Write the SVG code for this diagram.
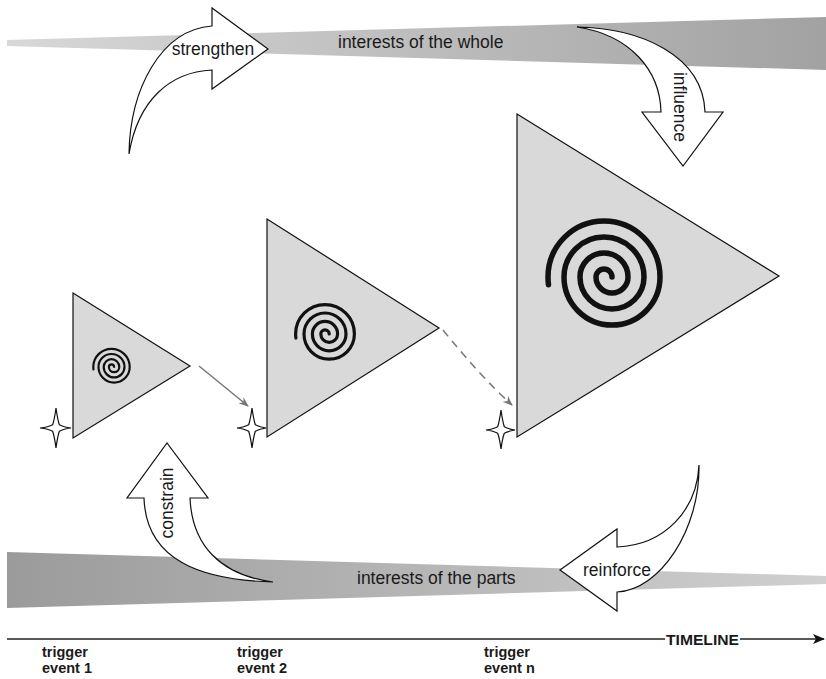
<svg xmlns="http://www.w3.org/2000/svg" width="826" height="679" viewBox="0 0 826 679">
  <defs>
    <linearGradient id="gWhole" x1="0" y1="0" x2="1" y2="0">
      <stop offset="0" stop-color="#d8d8d8"/>
      <stop offset="1" stop-color="#a2a2a2"/>
    </linearGradient>
    <linearGradient id="gParts" x1="0" y1="0" x2="1" y2="0">
      <stop offset="0" stop-color="#9b9b9b"/>
      <stop offset="1" stop-color="#d0d0d0"/>
    </linearGradient>
    <marker id="grayHead" viewBox="0 0 10 8" refX="9" refY="4" markerWidth="10" markerHeight="8" markerUnits="userSpaceOnUse" orient="auto">
      <path d="M0,0 L10,4 L0,8 L3,4 Z" fill="#777"/>
    </marker>
    <marker id="blackHead" viewBox="0 0 12 10" refX="11" refY="5" markerWidth="12" markerHeight="10" markerUnits="userSpaceOnUse" orient="auto">
      <path d="M0,0 L12,5 L0,10 L3,5 Z" fill="#111"/>
    </marker>
  </defs>
  <style>
    .lbl { font-family: "Liberation Sans", Arial, sans-serif; font-size: 17.5px; fill: #1a1a1a; }
    .bold { font-family: "Liberation Sans", Arial, sans-serif; font-size: 14.5px; font-weight: bold; fill: #1a1a1a; }
    .tri { fill: #d9d9d9; stroke: #111; stroke-width: 1.2; stroke-linejoin: miter; }
    .spiral { fill: none; stroke: #111; stroke-linecap: round; }
    .star { fill: #fff; stroke: #111; stroke-width: 1.2; stroke-linejoin: miter; }
    .block { fill: #fff; stroke: #111; stroke-width: 1.2; stroke-linejoin: miter; }
    .conn { fill: none; stroke: #777; stroke-width: 1.5; }
  </style>

  <rect width="826" height="679" fill="#fff"/>

  <g id="band-whole">
    <polygon points="7,40 826,17 826,70 7,46" fill="url(#gWhole)"/>
    <text class="lbl" x="338" y="48">interests of the whole</text>
  </g>

  <g id="band-parts">
    <polygon points="7,552 826,576 826,584 7,608" fill="url(#gParts)"/>
    <text class="lbl" x="357" y="584">interests of the parts</text>
  </g>

  <g id="timeline">
    <line x1="7" y1="639" x2="824" y2="639" stroke="#222" stroke-width="1.5" marker-end="url(#blackHead)"/>
    <rect x="665" y="631" width="75" height="16" fill="#fff"/>
    <text class="bold" x="666" y="644.5" font-size="15.5" textLength="73" lengthAdjust="spacingAndGlyphs">TIMELINE</text>
  </g>

  <g id="trigger-1">
    <text class="bold" x="42" y="657">trigger</text>
    <text class="bold" x="42" y="673">event 1</text>
  </g>
  <g id="trigger-2">
    <text class="bold" x="237" y="657">trigger</text>
    <text class="bold" x="237" y="673">event 2</text>
  </g>
  <g id="trigger-n">
    <text class="bold" x="484" y="657">trigger</text>
    <text class="bold" x="484" y="673">event n</text>
  </g>

  <g id="stage-1">
    <polygon class="tri" points="73,293 190,366 73,438"/>
    <path class="spiral" stroke-width="2.2" d="M114.1,367 A2.6,2.6 0 0 0 108.9,367 A5.2,5.2 0 0 0 119.3,367 A7.8,7.8 0 0 0 103.7,367 A10.4,10.4 0 0 0 124.5,367 A13,13 0 0 0 98.5,367 A15.6,15.6 0 0 0 129.7,367 A18.2,18.2 0 0 0 93.3,367 A18.2,18.2 0 0 0 93.5,369.5"/>
  </g>
  <g id="stage-2">
    <polygon class="tri" points="267,219 439,328 267,437"/>
    <path class="spiral" stroke-width="3.2" d="M329.2,334 A4.2,4.2 0 0 0 320.8,334 A8.4,8.4 0 0 0 337.6,334 A12.6,12.6 0 0 0 312.4,334 A16.8,16.8 0 0 0 346,334 A21,21 0 0 0 304,334 A25.2,25.2 0 0 0 354.4,334 A29.4,29.4 0 0 0 295.6,334 A29.4,29.4 0 0 0 295.9,338.1"/>
  </g>
  <g id="stage-n">
    <polygon class="tri" points="517,114 779,276 517,437"/>
    <path class="spiral" stroke-width="5.5" d="M612,277 A8,8 0 0 0 596,277 A16,16 0 0 0 628,277 A24,24 0 0 0 580,277 A32,32 0 0 0 644,277 A40,40 0 0 0 564,277 A48,48 0 0 0 660,277 A56,56 0 0 0 548,277 A56,56 0 0 0 548.5,284.8"/>
  </g>

  <g id="star-1">
    <path class="star" d="M56,408 Q57.5,419 59.3,424.7 Q63.5,427 71,428 Q63.5,429 59.3,431.3 Q57.5,437 56,448 Q54.5,437 52.7,431.3 Q48.5,429 40,428 Q48.5,427 52.7,424.7 Q54.5,419 56,408 Z"/>
  </g>
  <g id="star-2">
    <path class="star" d="M252,408 Q253.5,419 255.3,424.7 Q259.5,427 266,428 Q259.5,429 255.3,431.3 Q253.5,437 252,448 Q250.5,437 248.7,431.3 Q244.5,429 237,428 Q244.5,427 248.7,424.7 Q250.5,419 252,408 Z"/>
  </g>
  <g id="star-n">
    <path class="star" d="M501,410 Q502.5,421 504.3,426.7 Q508.5,429 515,430 Q508.5,431 504.3,433.3 Q502.5,438 501,449 Q499.5,438 497.7,433.3 Q493.5,431 486,430 Q493.5,429 497.7,426.7 Q499.5,421 501,410 Z"/>
  </g>

  <g id="arrow-strengthen">
    <path class="block" d="M129,154 C130,90 160,30 212,26 L212,8 L268,49 L212,89 L212,70 C170,72 138,100 129,154 Z"/>
    <text class="lbl" x="213" y="55" text-anchor="middle">strengthen</text>
  </g>
  <g id="arrow-influence">
    <path class="block" d="M577,27 C640,28 703,55 705,112 L723,112 L683,166 L642,112 L661,112 C660,70 630,35 577,27 Z"/>
    <text class="lbl" transform="translate(680,107) rotate(90)" text-anchor="middle" y="6">influence</text>
  </g>
  <g id="arrow-constrain">
    <path class="block" d="M273,582 C200,580 146,560 144,498 L127,498 L167,443 L208,498 L190,498 C192,545 220,575 273,582 Z"/>
    <text class="lbl" transform="translate(167,503) rotate(-90)" text-anchor="middle" y="6">constrain</text>
  </g>
  <g id="arrow-reinforce">
    <path class="block" d="M699,465 C700,530 660,590 617,592 L617,611 L560,570 L617,529 L617,547 C665,545 697,510 699,465 Z"/>
    <text class="lbl" x="617" y="576" text-anchor="middle">reinforce</text>
  </g>

  <g id="connectors">
    <path class="conn" d="M199,366 L248,406" marker-end="url(#grayHead)"/>
    <path class="conn" d="M443,330 Q480,376 512,405" stroke-dasharray="8 6" marker-end="url(#grayHead)"/>
  </g>
</svg>
